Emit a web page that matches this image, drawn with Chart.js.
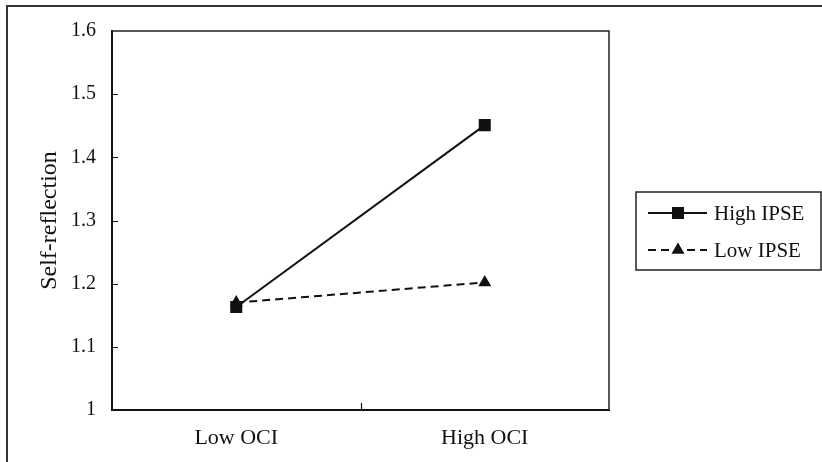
<!DOCTYPE html>
<html>
<head>
<meta charset="utf-8">
<script src="https://cdn.jsdelivr.net/npm/chart.js@4/dist/chart.umd.min.js"></script>
<style>
  html, body { margin: 0; padding: 0; background: #fff; }
  #wrap { width: 822px; height: 462px; position: relative; }
</style>
</head>
<body>
<div id="wrap"><canvas id="c" width="822" height="462"></canvas></div>
<script>
// ---- data ----
const categories = ['Low OCI', 'High OCI'];
const seriesNames = ['High IPSE', 'Low IPSE'];
const highIPSE = [1.163, 1.451];
const lowIPSE = [1.17, 1.202];
const yMin = 1.0, yMax = 1.6, yStep = 0.1;
const yTitle = 'Self-reflection';

const FONT = '"Liberation Serif", "Times New Roman", serif';
const INK = '#111';

const framePlugin = {
  id: 'frame',
  beforeDraw(chart) {
    const ctx = chart.ctx;
    ctx.save();
    ctx.fillStyle = '#fff';
    ctx.fillRect(0, 0, chart.width, chart.height);
    ctx.strokeStyle = '#333';
    ctx.lineWidth = 2;
    ctx.strokeRect(7, 6, 900, 600);
    ctx.restore();
  },
  afterDraw(chart) {
    const ctx = chart.ctx;
    const a = chart.chartArea;
    const ys = chart.scales.y, xs = chart.scales.x;
    ctx.save();
    // top and right frame lines
    ctx.strokeStyle = '#222';
    ctx.lineWidth = 1.5;
    ctx.beginPath();
    ctx.moveTo(a.left, a.top);
    ctx.lineTo(a.right, a.top);
    ctx.lineTo(a.right, a.bottom);
    ctx.stroke();
    // inner ticks
    ctx.strokeStyle = INK;
    ctx.lineWidth = 1.2;
    ctx.beginPath();
    ys.ticks.forEach(t => {
      if (t.value <= yMin + 1e-9 || t.value >= yMax - 1e-9) return;
      const py = Math.round(ys.getPixelForValue(t.value)) + 0.5;
      ctx.moveTo(a.left, py);
      ctx.lineTo(a.left + 6, py);
    });
    for (let i = 0; i < categories.length - 1; i++) {
      const px = Math.round((xs.getPixelForTick(i) + xs.getPixelForTick(i + 1)) / 2) + 0.5;
      ctx.moveTo(px, a.bottom);
      ctx.lineTo(px, a.bottom - 7);
    }
    ctx.stroke();

    // legend
    const lx = 636, ly = 192, lw = 185, lh = 78;
    ctx.strokeStyle = '#222';
    ctx.lineWidth = 1.5;
    ctx.strokeRect(lx, ly, lw, lh);
    const rows = [213, 250];
    chart.data.datasets.forEach((ds, i) => {
      const yy = rows[i];
      ctx.strokeStyle = INK;
      ctx.lineWidth = 2;
      ctx.setLineDash(ds.borderDash || []);
      ctx.beginPath();
      ctx.moveTo(648, yy);
      ctx.lineTo(707, yy);
      ctx.stroke();
      ctx.setLineDash([]);
      ctx.fillStyle = INK;
      ctx.beginPath();
      const cx = 678;
      if (ds.pointStyle === 'rect') {
        ctx.rect(cx - 6, yy - 6, 12, 12);
      } else {
        const r = 7.5;
        ctx.moveTo(cx, yy - r);
        ctx.lineTo(cx + r * Math.sin(2 * Math.PI / 3), yy + r / 2);
        ctx.lineTo(cx - r * Math.sin(2 * Math.PI / 3), yy + r / 2);
        ctx.closePath();
      }
      ctx.fill();
      ctx.fillStyle = INK;
      ctx.font = '21px ' + FONT;
      ctx.textBaseline = 'middle';
      ctx.textAlign = 'left';
      ctx.fillText(ds.label, 714, yy + 1);
    });
    ctx.restore();
  }
};

new Chart(document.getElementById('c'), {
  type: 'line',
  data: {
    labels: categories,
    datasets: [
      {
        label: seriesNames[0],
        data: highIPSE,
        borderColor: INK,
        backgroundColor: INK,
        borderWidth: 2,
        pointStyle: 'rect',
        pointRadius: 8.5,
        pointBorderWidth: 0,
        pointHoverRadius: 8.5,
        fill: false,
        tension: 0
      },
      {
        label: seriesNames[1],
        data: lowIPSE,
        borderColor: INK,
        backgroundColor: INK,
        borderWidth: 2,
        borderDash: [8, 5],
        pointStyle: 'triangle',
        pointRadius: 7.5,
        pointBorderWidth: 0,
        pointHoverRadius: 7.5,
        fill: false,
        tension: 0
      }
    ]
  },
  options: {
    responsive: false,
    animation: false,
    devicePixelRatio: 1,
    layout: { padding: { top: 31, right: 213, left: 0, bottom: 0 } },
    plugins: {
      legend: { display: false },
      tooltip: { enabled: false },
      title: { display: false }
    },
    scales: {
      x: {
        offset: true,
        grid: { display: false, drawTicks: false },
        border: { display: true, color: INK, width: 2 },
        ticks: { color: INK, font: { family: FONT, size: 22 }, padding: 15, maxRotation: 0 },
        afterFit(s) { s.height = 52; }
      },
      y: {
        min: yMin,
        max: yMax,
        grid: { display: false, drawTicks: false },
        border: { display: true, color: INK, width: 2 },
        ticks: {
          stepSize: yStep,
          color: INK,
          font: { family: FONT, size: 20 },
          padding: 16,
          callback: v => (Math.round(v * 10) / 10).toString()
        },
        title: {
          display: true,
          text: yTitle,
          color: INK,
          font: { family: FONT, size: 24 },
          padding: { top: 35, bottom: 0 }
        },
        afterFit(s) { s.width = 112; }
      }
    }
  },
  plugins: [framePlugin]
});
</script>
</body>
</html>
